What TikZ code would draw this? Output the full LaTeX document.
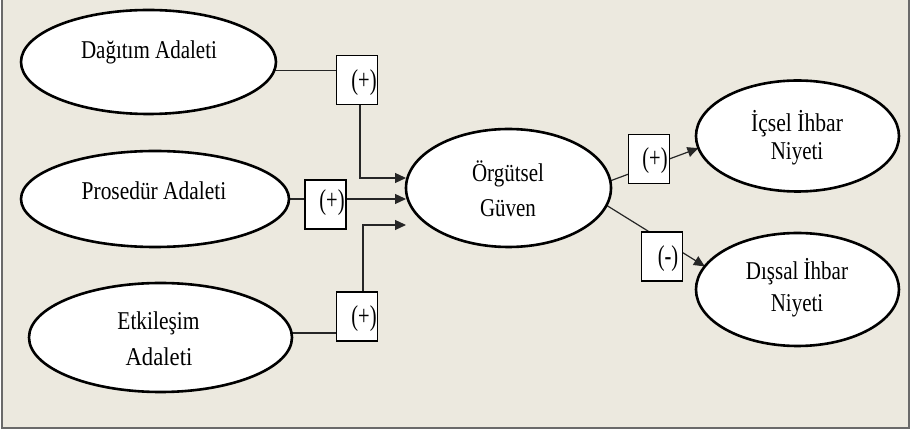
\documentclass[tikz,border=0pt]{standalone}
\usepackage{fontspec}
\setmainfont{Liberation Serif}
\usepackage{graphicx}
\usetikzlibrary{arrows.meta,shapes.geometric}
\definecolor{bgbeige}{HTML}{ECE9DF}
\definecolor{framegray}{HTML}{6A6A6A}
\newcommand\vz[2]{\scalebox{#1}[1.22]{#2}}
\newcommand\vb[1]{\scalebox{1}[1.4]{#1}}
\pgfdeclarelayer{bg}
\pgfdeclarelayer{lines}
\pgfsetlayers{bg,lines,main}
\tikzset{
  oval/.style={ellipse, draw=black, fill=white, line width=2.6pt, inner sep=0pt, outer sep=0pt},
  signbox/.style={rectangle, draw=black, fill=white, line width=1.2pt, inner sep=0pt, outer sep=0pt, minimum width=41pt, minimum height=49pt},
  lbl/.style={inner sep=0pt, font=\fontsize{21}{25}\selectfont, text=black},
  slbl/.style={inner sep=0pt, font=\fontsize{20.5}{24}\selectfont, text=black},
  ln/.style={draw=black!85, line width=1.2pt},
  arr/.style={ln, -{Triangle[length=11pt,width=10pt]}}
}
\begin{document}
\begin{tikzpicture}[x=1pt,y=-1pt]
\useasboundingbox (0,0) rectangle (911,435);
\begin{pgfonlayer}{bg}
  \fill[white] (0,0) rectangle (911,435);
  \fill[bgbeige] (2,0) rectangle (909,428);
  \draw[framegray, line width=1.6pt] (2,-2) -- (2,428) -- (909,428) -- (909,-2);
\end{pgfonlayer}

% ovals
\node[oval, minimum width=255pt, minimum height=104pt] (da) at (148.5,62) {};
\node[oval, minimum width=268pt, minimum height=96pt]  (pa) at (155,199) {};
\node[oval, minimum width=263pt, minimum height=109pt] (ea) at (160.5,337.5) {};
\node[oval, minimum width=205pt, minimum height=118pt] (og) at (508.5,188) {};
\node[oval, minimum width=203pt, minimum height=111pt] (ic) at (797.5,136) {};
\node[oval, minimum width=203pt, minimum height=113pt] (ds) at (797.5,289.5) {};

% oval texts
\node[lbl, anchor=base] (tda) at (149,59) {\vz{1}{Dağıtım Adaleti}};
\node[lbl, anchor=base] (tpa) at (154,200) {\vz{1.02}{Prosedür Adaleti}};
\node[lbl, anchor=base] (tea1) at (158.5,330) {\vz{1.02}{Etkileşim}};
\node[lbl, anchor=base] (tea2) at (159,366) {\vz{1.08}{Adaleti}};
\node[lbl, anchor=base] (tog1) at (508,182) {\vz{1}{Örgütsel}};
\node[lbl, anchor=base] (tog2) at (508,217) {\vz{1}{Güven}};
\node[lbl, anchor=base] (tic1) at (797,132) {\vz{1.03}{İçsel İhbar}};
\node[lbl, anchor=base] (tic2) at (797,160) {\vz{1}{Niyeti}};
\node[lbl, anchor=base] (tds1) at (797,280) {\vz{1}{Dışsal İhbar}};
\node[lbl, anchor=base] (tds2) at (797,312) {\vz{1}{Niyeti}};

% sign boxes
\node[signbox] (b1) at (357,80) {};
\node[signbox] (b2) at (325.5,204.5) {};
\node[signbox] (b3) at (357,316.5) {};
\node[signbox] (b4) at (649,159) {};
\node[signbox] (b5) at (662,256.5) {};
\node[slbl] (s1) at (364,83) {\vb{(+)}};
\node[slbl] (s2) at (332,203) {\vb{(+)}};
\node[slbl] (s3) at (364,319) {\vb{(+)}};
\node[slbl] (s4) at (655,161) {\vb{(+)}};
\node[slbl] (s5) at (668,259) {\vb{(-)}};

% connectors
\begin{pgfonlayer}{lines}
  \draw[ln] (da.-4) -- (da.-4 -| b1.west);
  \draw[arr] ([xshift=3pt]b1.south) |- ([yshift=10pt]og.west);
  \draw[ln] (pa.east) -- (pa.east -| b2.west);
  \draw[arr] (pa.east -| b2.east) -- (pa.east -| og.west);
  \draw[ln] (ea.2) -- (ea.2 -| b3.west);
  \draw[arr] ([xshift=6pt]b3.north) |- ([yshift=-37pt]og.west);
  \draw[arr] (og.4.5) -- (ic.187);
  \draw[arr] (og.-10.7) -- (ds.166.7);
\end{pgfonlayer}
\end{tikzpicture}
\end{document}
